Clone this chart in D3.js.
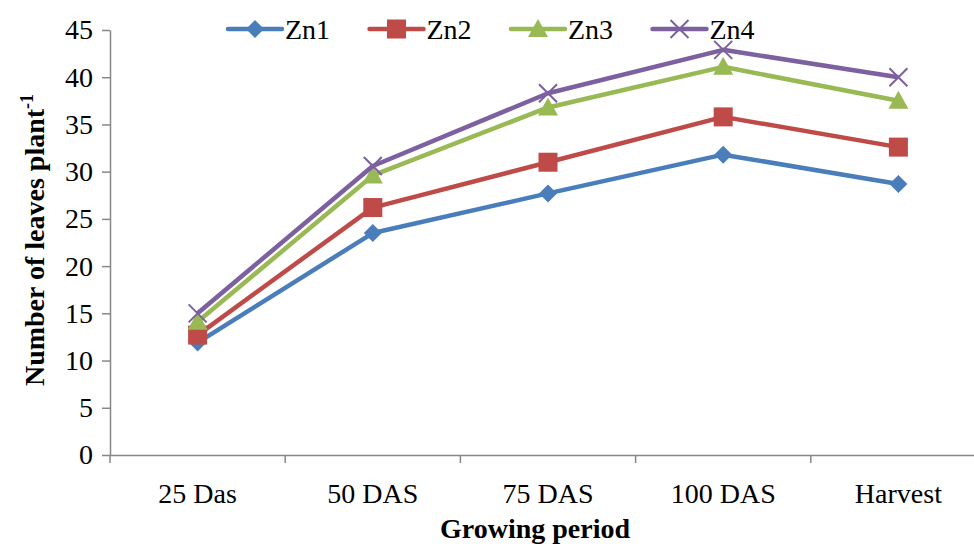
<!DOCTYPE html>
<html>
<head>
<meta charset="utf-8">
<script src="https://cdn.jsdelivr.net/npm/d3@7"></script>
<style>
  html, body { margin: 0; padding: 0; background: #fff; }
</style>
</head>
<body>
<svg id="chart" width="974" height="544"></svg>
<script>
// Growing stages on the x axis
const stages = ["25 Das", "50 DAS", "75 DAS", "100 DAS", "Harvest"];

// Number of leaves per plant for each zinc level
const zn1 = [11.9, 23.5, 27.7, 31.8, 28.7];
const zn2 = [12.7, 26.2, 31.0, 35.8, 32.6];
const zn3 = [14.1, 29.6, 36.8, 41.1, 37.5];
const zn4 = [15.0, 30.6, 38.3, 42.9, 40.0];

const seriesNames = ["Zn1", "Zn2", "Zn3", "Zn4"];
const seriesColors = ["#4A7EBB", "#BE4B48", "#98B954", "#7D60A0"];
const seriesMarkers = ["diamond", "square", "triangle", "cross"];
const yTicks = [0, 5, 10, 15, 20, 25, 30, 35, 40, 45];

const series = [zn1, zn2, zn3, zn4].map((values, i) => ({
  name: seriesNames[i], color: seriesColors[i], marker: seriesMarkers[i], values
}));

const FONT = "'Liberation Serif', 'Times New Roman', serif";

const svg = d3.select("#chart");
const margin = { left: 110, top: 30, bottom: 455 };
const plotRight = 986;

const x = d3.scaleBand().domain(stages).range([margin.left, plotRight]).padding(0);
const y = d3.scaleLinear().domain([0, 45]).range([margin.bottom, margin.top]);

const axisColor = "#878787";

// Y axis
const yAxis = svg.append("g")
  .attr("transform", `translate(${margin.left},0)`)
  .call(d3.axisLeft(y).tickValues(yTicks).tickSize(8).tickSizeOuter(0).tickPadding(9));
yAxis.select(".domain").attr("stroke", axisColor).attr("stroke-width", 1.5);
yAxis.selectAll(".tick line").attr("stroke", axisColor).attr("stroke-width", 1.5);
yAxis.selectAll(".tick text").attr("font-size", 28).attr("fill", "#000").style("font-family", FONT);

// X axis: labels centred in each band, ticks on band boundaries
const xAxis = svg.append("g")
  .attr("transform", `translate(0,${margin.bottom})`)
  .call(d3.axisBottom(x).tickSize(0).tickSizeOuter(0).tickPadding(28));
xAxis.select(".domain").attr("stroke", axisColor).attr("stroke-width", 1.5);
xAxis.selectAll(".tick text").attr("font-size", 28).attr("fill", "#000").style("font-family", FONT);

const boundaries = stages.map(s => x(s)).concat([x.range()[1]]);
svg.append("g").selectAll("line")
  .data(boundaries)
  .join("line")
  .attr("x1", d => d).attr("x2", d => d)
  .attr("y1", margin.bottom).attr("y2", margin.bottom + 8)
  .attr("stroke", axisColor).attr("stroke-width", 1.5);

// Axis titles
svg.append("text")
  .attr("transform", `translate(44,240) rotate(-90)`)
  .attr("text-anchor", "middle")
  .attr("font-size", 28).attr("font-weight", "bold")
  .style("font-family", FONT)
  .text("Number of leaves plant")
  .append("tspan").attr("font-size", 18).attr("dy", -11).text("-1");

svg.append("text")
  .attr("x", (margin.left + 974) / 2 - 7)
  .attr("y", 538)
  .attr("text-anchor", "middle")
  .attr("font-size", 28).attr("font-weight", "bold")
  .style("font-family", FONT)
  .text("Growing period");

// Marker shapes
function drawMarker(g, type, color) {
  if (type === "diamond") {
    g.append("path").attr("d", "M0,-9 L9,0 L0,9 L-9,0 Z").attr("fill", color);
  } else if (type === "square") {
    g.append("rect").attr("x", -9.5).attr("y", -9.5).attr("width", 19).attr("height", 19).attr("fill", color);
  } else if (type === "triangle") {
    g.append("path").attr("d", "M0,-10 L10,8 L-10,8 Z").attr("fill", color);
  } else {
    g.append("path").attr("d", "M-9,-9 L9,9 M-9,9 L9,-9")
      .attr("stroke", color).attr("stroke-width", 2).attr("fill", "none");
  }
}

const cx = s => x(s) + x.bandwidth() / 2;
const line = d3.line().x((d, i) => cx(stages[i])).y(d => y(d));

series.forEach(s => {
  const g = svg.append("g");
  g.append("path")
    .attr("d", line(s.values))
    .attr("fill", "none")
    .attr("stroke", s.color)
    .attr("stroke-width", 4.5)
    .attr("stroke-linejoin", "round");
  s.values.forEach((v, i) => {
    const m = g.append("g").attr("transform", `translate(${cx(stages[i])},${y(v)})`);
    drawMarker(m, s.marker, s.color);
  });
});

// Legend
const legend = svg.append("g");
const legendX0 = 228, legendStep = 141.5, legendY = 29;
series.forEach((s, i) => {
  const lx = legendX0 + i * legendStep;
  const g = legend.append("g");
  g.append("line")
    .attr("x1", lx).attr("x2", lx + 54)
    .attr("y1", legendY).attr("y2", legendY)
    .attr("stroke", s.color).attr("stroke-width", 4.5).attr("stroke-linecap", "round");
  const m = g.append("g").attr("transform", `translate(${lx + 27},${legendY})`);
  drawMarker(m, s.marker, s.color);
  g.append("text")
    .attr("x", lx + 57).attr("y", legendY + 10)
    .attr("font-size", 28)
    .style("font-family", FONT)
    .text(s.name);
});
</script>
</body>
</html>
